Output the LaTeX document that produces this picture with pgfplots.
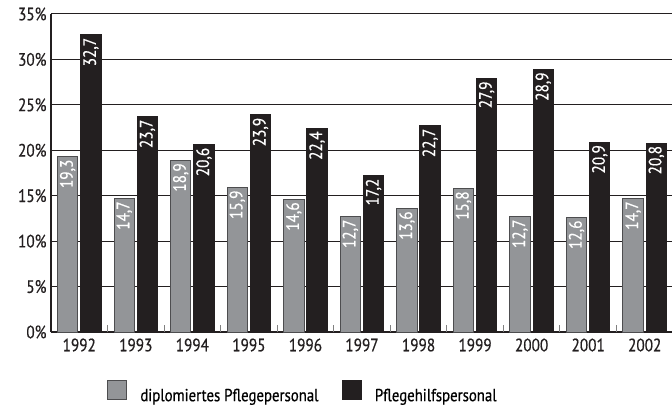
\documentclass[border=0pt]{standalone}
\usepackage{pgfplots}
\pgfplotsset{compat=1.18}
\usepackage{fontspec}
\setmainfont{PT Sans}[FakeStretch=0.85, FakeBold=0.6]
\definecolor{barGray}{HTML}{939598}
\definecolor{barBlack}{HTML}{231F20}
\definecolor{edgeGray}{HTML}{4D4D4F}
\begin{document}
\begin{tikzpicture}
\useasboundingbox (-51bp,-73bp) rectangle (621bp,332bp);
\begin{axis}[
  at={(0,0)}, anchor=south west,
  scale only axis, width=622bp, height=318bp,
  xmin=-0.5, xmax=10.5, ymin=0, ymax=35,
  axis x line=bottom, axis y line=left,
  axis line style={barBlack, -},
  x axis line style={line width=2bp},
  y axis line style={line width=1.4bp},
  ymajorgrids, grid style={barBlack, line width=1bp},
  ytick={0,5,...,35},
  yticklabel={\pgfmathprintnumber{\tick}\%},
  xtick={0,...,10},
  xticklabels={1992,1993,1994,1995,1996,1997,1998,1999,2000,2001,2002},
  major tick length=0pt,
  extra x ticks={0.5,1.5,...,9.5},
  extra x tick labels={},
  extra x tick style={tick align=inside, major tick length=7bp, tick style={gray, line width=1bp}},
  /pgf/number format/assume math mode=true,
  tick label style={font=\fontsize{18}{21}\selectfont, text=barBlack},
  xticklabel style={yshift=-3bp},
  yticklabel style={xshift=-1bp},
  ybar, bar width=0.36,
  nodes near coords,
  nodes near coords style={rotate=90, anchor=east, text=white, inner sep=2.5bp,
     font=\fontsize{18}{21}\selectfont,
     /pgf/number format/.cd, use comma, fixed, fixed zerofill, precision=1, assume math mode=true},
  legend style={at={(0.09,-0.151)}, anchor=north west, draw=none, fill=none,
     inner sep=0pt, outer sep=0pt, font=\fontsize{17.5}{20}\selectfont,
     nodes={inner sep=0pt},
     /tikz/every odd column/.append style={column sep=13bp},
     /tikz/every even column/.append style={column sep=23bp}},
  legend columns=2,
  legend cell align=left,
  legend image code/.code={\draw[#1, line width=1.4bp] (0bp,-4bp) rectangle (19bp,15bp);},
]
\addplot[fill=barGray, draw=edgeGray, line width=1bp, bar shift=-0.205] coordinates {
 (0,19.3) (1,14.7) (2,18.9) (3,15.9) (4,14.6) (5,12.7) (6,13.6) (7,15.8) (8,12.7) (9,12.6) (10,14.7)};
\addlegendentry{diplomiertes Pflegepersonal}
\addplot[fill=barBlack, draw=barBlack, line width=1bp, bar shift=0.205] coordinates {
 (0,32.7) (1,23.7) (2,20.6) (3,23.9) (4,22.4) (5,17.2) (6,22.7) (7,27.9) (8,28.9) (9,20.9) (10,20.8)};
\addlegendentry{Pflegehilfspersonal}
\end{axis}
\end{tikzpicture}
\end{document}
